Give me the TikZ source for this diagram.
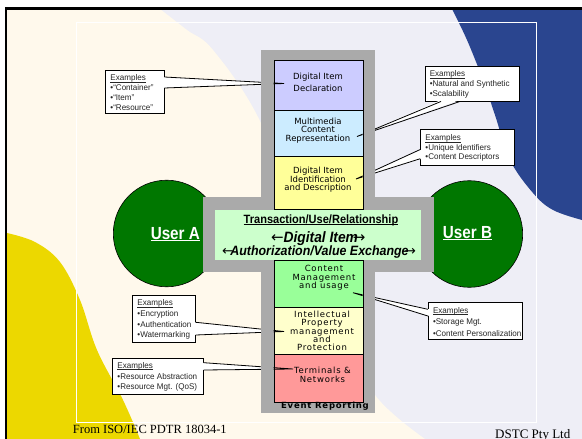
\documentclass[tikz,border=0pt]{standalone}
\usepackage{fontspec}
\setmainfont{Liberation Serif}
\newfontfamily\calfont{Liberation Sans}[FakeStretch=0.97]
\newfontfamily\boxfont{DejaVu Sans}
\newfontfamily\boxfontsp{DejaVu Sans}[LetterSpace=9]
\newfontfamily\condfont{Liberation Sans}[FakeStretch=0.92]
\newfontfamily\userfont{Liberation Sans}[FakeStretch=0.87]
\newfontfamily\arrowfont{DejaVu Sans}
\newcommand\myul[3]{\setbox0\hbox{#3}\rlap{\rule[-#1]{\wd0}{#2}}\box0}
\definecolor{cream}{RGB}{255,249,236}
\definecolor{lav}{RGB}{238,238,246}
\definecolor{dblue}{RGB}{42,69,143}
\definecolor{yel}{RGB}{236,216,0}
\definecolor{greyframe}{RGB}{170,170,170}
\definecolor{ugreen}{RGB}{0,119,0}
\definecolor{purp}{RGB}{204,204,255}
\definecolor{lblue}{RGB}{204,236,255}
\definecolor{lyel}{RGB}{255,255,153}
\definecolor{cgreen}{RGB}{204,255,204}
\definecolor{mgreen}{RGB}{153,255,153}
\definecolor{pyel}{RGB}{255,255,204}
\definecolor{pinkbox}{RGB}{255,153,153}
\begin{document}
\begin{tikzpicture}[x=1pt,y=-1pt,
  cbox/.style={draw=black, line width=0.6pt, inner sep=0pt, anchor=north west, minimum width=89.2pt},
  callbox/.style={draw=black, fill=white, line width=0.9pt, inner sep=0pt},
  calltext/.style={inner sep=0pt, anchor=west, align=left, text=black!85, font=\calfont\fontsize{8.3}{#1}\selectfont},
  wline/.style={draw=black, line width=0.8pt},
  boxtext/.style={inner sep=0pt, align=center, font=\boxfont\fontsize{8.5}{#1}\selectfont},
  boxtextsp/.style={inner sep=0pt, align=center, font=\boxfontsp\fontsize{8.5}{#1}\selectfont},
  user/.style={circle, draw=black, line width=0.6pt, fill=ugreen, minimum size=106.6pt, inner sep=0pt},
  usertext/.style={inner sep=0pt, anchor=base, text=white, font=\userfont\bfseries\fontsize{17.5}{20}\selectfont},
  plain/.style={inner sep=0pt, anchor=base},
]
\useasboundingbox (0,0) rectangle (582,439);
% background
\fill[white] (0,0) rectangle (582,439);
\fill[lav] (7,9) rectangle (582,439);
\fill[cream] plot[smooth,tension=0.6] coordinates {(160,9)(187,30)(213,50)(258,117)(305,230)(347,330)(375,395)(425,439)} -- (7,439) -- (7,9) -- cycle;
\fill[dblue] plot[smooth,tension=0.6] coordinates {(452,9)(467,40)(483,80)(495,115)(510,160)(533,193)(553,210)(582,220)} -- (582,9) -- cycle;
\fill[yel] plot[smooth,tension=0.6] coordinates {(7,233)(35,242)(60,262)(80,300)(97,350)(123,400)(140,439)} -- (7,439) -- cycle;
\fill[black] (5,7) rectangle (582,9.5);
\fill[black] (5,7) rectangle (7.3,439);
\draw[white, line width=0.8pt] (76.7,22.7) rectangle (536,422.7);
% users
\node[user] (ua) at (166.6,233.5) {};
\node[user] (ub) at (469.4,234) {};
% callout boxes
\node[callbox, minimum width=58.3pt, minimum height=43.3pt] (c1) at (134.85,91.65) {};
\node[callbox, minimum width=94pt, minimum height=35pt] (c2) at (472,83.5) {};
\node[callbox, minimum width=94pt, minimum height=35.7pt] (c3) at (467.7,147.15) {};
\node[callbox, minimum width=62.6pt, minimum height=47.3pt] (c4) at (164,318.65) {};
\node[callbox, minimum width=90.6pt, minimum height=35.7pt] (c5) at (158,376.15) {};
\node[callbox, minimum width=94.4pt, minimum height=36.6pt] (c6) at (475.5,321) {};
\coordinate (t1) at (284,83.5);
\coordinate (t2) at (357,136.5);
\coordinate (t3) at (356,179);
\coordinate (t4) at (284,331.5);
\coordinate (t5) at (293,369);
\coordinate (t6) at (353,292.7);
% wedges
\fill[white] ([xshift=-1.5pt,yshift=14.65pt]c1.east) -- (t1) -- ([xshift=-1.5pt,yshift=3.65pt]c1.east) -- cycle;
\draw[wline] ([yshift=14.65pt]c1.east) -- (t1) -- ([yshift=3.65pt]c1.east);
\fill[white] ([xshift=-31pt,yshift=1.5pt]c2.south) -- (t2) -- ([xshift=-12pt,yshift=1.5pt]c2.south) -- cycle;
\draw[wline] ([xshift=-31pt]c2.south) -- (t2) -- ([xshift=-12pt]c2.south);
\fill[white] ([xshift=1.5pt,yshift=-2.35pt]c3.west) -- (t3) -- ([xshift=1.5pt,yshift=-11.55pt]c3.west) -- cycle;
\draw[wline] ([yshift=-2.35pt]c3.west) -- (t3) -- ([yshift=-11.55pt]c3.west);
\fill[white] ([xshift=-1.5pt,yshift=-3.65pt]c4.east) -- (t4) -- ([xshift=-1.5pt,yshift=-16.35pt]c4.east) -- cycle;
\draw[wline] ([yshift=-3.65pt]c4.east) -- (t4) -- ([yshift=-16.35pt]c4.east);
\fill[white] ([xshift=-1.5pt,yshift=13.45pt]c5.east) -- (t5) -- ([xshift=-1.5pt,yshift=6.15pt]c5.east) -- cycle;
\draw[wline] ([yshift=13.45pt]c5.east) -- (t5) -- ([yshift=6.15pt]c5.east);
\fill[white] ([xshift=1.5pt,yshift=11.7pt]c6.west) -- (t6) -- ([xshift=1.5pt,yshift=5pt]c6.west) -- cycle;
\draw[wline] ([yshift=11.7pt]c6.west) -- (t6) -- ([yshift=5pt]c6.west);
% grey frame
\fill[greyframe] (261,50) rectangle (375,413);
\fill[greyframe] (203,197) rectangle (434,272);
% coloured boxes
\node[cbox, fill=purp, minimum height=50pt] (b1) at (273.5,60) {};
\node[cbox, fill=lblue, minimum height=45.7pt] (b2) at (273.5,110) {};
\node[cbox, fill=lyel, minimum height=52.8pt] (b3) at (273.5,155.7) {};
\node[cbox, fill=mgreen, minimum height=46.7pt] (b4) at (273.5,260) {};
\node[cbox, fill=pyel, minimum height=47.3pt] (b5) at (273.5,306.7) {};
\node[cbox, fill=pinkbox, minimum height=47.7pt] (b6) at (273.5,354) {};
\node[fill=cgreen, minimum width=206pt, minimum height=50.7pt, inner sep=0pt, anchor=north west] (cx) at (215,209.3) {};
% wedge tips over boxes
\begin{scope}
\clip (273.5,60) rectangle (362.7,401.7);
\draw[wline] ([yshift=14.65pt]c1.east) -- (t1) -- ([yshift=3.65pt]c1.east);
\draw[wline] ([xshift=-31pt]c2.south) -- (t2) -- ([xshift=-12pt]c2.south);
\draw[wline] ([yshift=-2.35pt]c3.west) -- (t3) -- ([yshift=-11.55pt]c3.west);
\draw[wline] ([yshift=-3.65pt]c4.east) -- (t4) -- ([yshift=-16.35pt]c4.east);
\draw[wline] ([yshift=13.45pt]c5.east) -- (t5) -- ([yshift=6.15pt]c5.east);
\draw[wline] ([yshift=11.7pt]c6.west) -- (t6) -- ([yshift=5pt]c6.west);
\end{scope}
% box texts
\node[boxtext=11.6] (l1) at (318,82.5) {Digital Item\\Declaration};
\node[boxtext=8.5] (l2) at (318,130.2) {Multimedia\\Content\\Representation};
\node[boxtext=8] (l3) at (318,179.6) {Digital Item\\Identification\\and Description};
\node[boxtextsp=8.7] (l4) at (324,278) {Content\\Management\\and usage};
\node[boxtextsp=8.35] (l5) at (322,331) {Intellectual\\Property\\management\\and\\Protection};
\node[boxtextsp=9.3] (l6) at (322.5,374.7) {Terminals \&\\Networks};
\node[plain, font=\boxfontsp\bfseries\fontsize{8.5}{10}\selectfont] (er) at (325,408.5) {Event Reporting};
% centre texts
\node[plain, font=\condfont\bfseries\fontsize{12}{14}\selectfont] (tr) at (321,223.3) {\myul{1.2pt}{0.8pt}{Transaction/Use/Relationship}};
\node[plain, font=\condfont\bfseries\itshape\fontsize{15}{18}\selectfont] (di) at (318.3,242.5) {{\arrowfont\mdseries\upshape ←}Digital Item\kern-5pt{\arrowfont\mdseries\upshape →}};
\node[plain, font=\condfont\bfseries\itshape\fontsize{13.5}{16}\selectfont] (av) at (319,255) {{\arrowfont\mdseries\upshape ←}\kern-3pt Authorization/Value Exchange\kern-4pt{\arrowfont\mdseries\upshape →}};
% users text
\node[usertext] (uat) at (175.3,239.3) {\myul{2pt}{1pt}{User A}};
\node[usertext] (ubt) at (467.5,238.3) {\myul{2pt}{1pt}{User B}};
% callout texts
\node[calltext=10] (x1) at ([xshift=5pt,yshift=-1pt]c1.west) {\myul{1.4pt}{0.5pt}{Examples}\\•“Container”\\•“Item”\\•“Resource”};
\node[calltext=9.7] (x2) at ([xshift=5pt,yshift=-1pt]c2.west) {\myul{1.4pt}{0.5pt}{Examples}\\•Natural and Synthetic\\•Scalability};
\node[calltext=9.5] (x3) at ([xshift=5pt,yshift=-1pt]c3.west) {\myul{1.4pt}{0.5pt}{Examples}\\•Unique Identifiers\\•Content Descriptors};
\node[calltext=10.6] (x4) at ([xshift=5pt,yshift=-1pt]c4.west) {\myul{1.4pt}{0.5pt}{Examples}\\•Encryption\\•Authentication\\•Watermarking};
\node[calltext=10.7] (x5) at ([xshift=5pt,yshift=-1pt]c5.west) {\myul{1.4pt}{0.5pt}{Examples}\\•Resource Abstraction\\•Resource Mgt. (QoS)};
\node[calltext=11.5] (x6) at ([xshift=5pt,yshift=-1pt]c6.west) {\myul{1.4pt}{0.5pt}{Examples}\\•Storage Mgt.\\•Content Personalization};
% footer
\node[inner sep=0pt, anchor=base west, font=\fontsize{12.5}{14}\selectfont] (f1) at (72.7,433) {From ISO/IEC PDTR 18034-1};
\node[inner sep=0pt, anchor=base west, font=\fontsize{13}{15}\selectfont] (f2) at (495,438.5) {DSTC Pty Ltd};
\end{tikzpicture}
\end{document}
